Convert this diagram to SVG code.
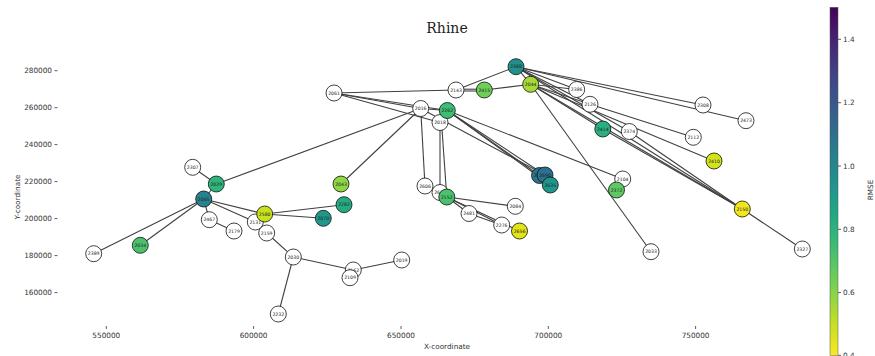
<svg xmlns="http://www.w3.org/2000/svg" width="875" height="356" viewBox="0 0 875 356">
<defs>
<linearGradient id="vir" x1="0" y1="0" x2="0" y2="1">
<stop offset="0" stop-color="#440154"/>
<stop offset="0.1" stop-color="#482475"/>
<stop offset="0.2" stop-color="#414487"/>
<stop offset="0.3" stop-color="#355f8d"/>
<stop offset="0.4" stop-color="#2a788e"/>
<stop offset="0.5" stop-color="#21918c"/>
<stop offset="0.6" stop-color="#22a884"/>
<stop offset="0.7" stop-color="#44bf70"/>
<stop offset="0.8" stop-color="#7ad151"/>
<stop offset="0.9" stop-color="#bddf26"/>
<stop offset="1" stop-color="#fde725"/>
</linearGradient>
</defs>
<style>
.e{stroke:#404040;stroke-width:1.1;fill:none}
.n circle{stroke:#111;stroke-width:0.8}
.w circle{fill:#fff}
.n text{font-family:"DejaVu Sans",sans-serif;font-size:4.6px;fill:#222;text-anchor:middle;dominant-baseline:central}
.tk{font-family:"DejaVu Sans",sans-serif;font-size:7.3px;fill:#333}
.tl{stroke:#333;stroke-width:0.8}
</style>
<rect width="875" height="356" fill="#fff"/>
<text x="447" y="33" font-family="DejaVu Serif,serif" font-size="14" text-anchor="middle" fill="#222">Rhine</text>
<g id="axes">
<g class="tk" text-anchor="end">
<text x="52" y="73.3">280000</text>
<text x="52" y="110.3">260000</text>
<text x="52" y="147.2">240000</text>
<text x="52" y="184.2">220000</text>
<text x="52" y="221.2">200000</text>
<text x="52" y="258.2">180000</text>
<text x="52" y="295.2">160000</text>
</g>
<g class="tl">
<line x1="54.5" y1="70.7" x2="57.5" y2="70.7"/>
<line x1="54.5" y1="107.7" x2="57.5" y2="107.7"/>
<line x1="54.5" y1="144.6" x2="57.5" y2="144.6"/>
<line x1="54.5" y1="181.6" x2="57.5" y2="181.6"/>
<line x1="54.5" y1="218.6" x2="57.5" y2="218.6"/>
<line x1="54.5" y1="255.6" x2="57.5" y2="255.6"/>
<line x1="54.5" y1="292.6" x2="57.5" y2="292.6"/>
<line x1="106.3" y1="326" x2="106.3" y2="329"/>
<line x1="253.6" y1="326" x2="253.6" y2="329"/>
<line x1="401" y1="326" x2="401" y2="329"/>
<line x1="548.3" y1="326" x2="548.3" y2="329"/>
<line x1="695.6" y1="326" x2="695.6" y2="329"/>
</g>
<g class="tk" text-anchor="middle">
<text x="106.3" y="337.5">550000</text>
<text x="253.6" y="337.5">600000</text>
<text x="401" y="337.5">650000</text>
<text x="548.3" y="337.5">700000</text>
<text x="695.6" y="337.5">750000</text>
<text x="447" y="349">X-coordinate</text>
<text transform="translate(19.5,197) rotate(-90)">Y-coordinate</text>
</g>
</g>
<g id="colorbar">
<rect x="830" y="7.3" width="8" height="348" fill="url(#vir)" stroke="#555" stroke-width="0.5"/>
<g class="tl">
<line x1="838" y1="39.3" x2="841" y2="39.3"/>
<line x1="838" y1="102.7" x2="841" y2="102.7"/>
<line x1="838" y1="166" x2="841" y2="166"/>
<line x1="838" y1="229.3" x2="841" y2="229.3"/>
<line x1="838" y1="292.6" x2="841" y2="292.6"/>
<line x1="838" y1="355.3" x2="841" y2="355.3"/>
</g>
<g class="tk">
<text x="843" y="41.8">1.4</text>
<text x="843" y="105.2">1.2</text>
<text x="843" y="168.5">1.0</text>
<text x="843" y="231.8">0.8</text>
<text x="843" y="295.1">0.6</text>
<text x="843" y="358">0.4</text>
<text transform="translate(872.5,190) rotate(-90)" text-anchor="middle">RMSE</text>
</g>
</g>
<g id="edges" class="e">
<line x1="93.7" y1="253.7" x2="203.7" y2="199"/>
<line x1="140.3" y1="245.3" x2="203.7" y2="199"/>
<line x1="192.7" y1="167.3" x2="216.3" y2="184"/>
<line x1="216.3" y1="184" x2="203.7" y2="199"/>
<line x1="216.3" y1="184" x2="420.7" y2="108.5"/>
<line x1="203.7" y1="199" x2="264.7" y2="214"/>
<line x1="203.7" y1="199" x2="255.3" y2="222"/>
<line x1="203.7" y1="199" x2="209.3" y2="219.7"/>
<line x1="209.3" y1="219.7" x2="234" y2="231"/>
<line x1="264.7" y1="214" x2="344" y2="204.7"/>
<line x1="264.7" y1="214" x2="323.3" y2="218.3"/>
<line x1="255.3" y1="222" x2="266.7" y2="233"/>
<line x1="266.7" y1="233" x2="293.3" y2="257"/>
<line x1="293.3" y1="257" x2="278.3" y2="314"/>
<line x1="293.3" y1="257" x2="353.3" y2="270"/>
<line x1="353.3" y1="270" x2="401.7" y2="260"/>
<line x1="341" y1="184" x2="420.7" y2="108.5"/>
<line x1="334" y1="93" x2="456" y2="90"/>
<line x1="334" y1="93" x2="420.7" y2="108.5"/>
<line x1="334" y1="93" x2="447.3" y2="110.5"/>
<line x1="334" y1="93" x2="440" y2="122.5"/>
<line x1="420.7" y1="108.5" x2="447.3" y2="110.5"/>
<line x1="420.7" y1="108.5" x2="425" y2="186"/>
<line x1="440" y1="122.5" x2="440" y2="192.5"/>
<line x1="441.5" y1="122.5" x2="446.8" y2="197"/>
<line x1="447.3" y1="110.5" x2="539.5" y2="175.5"/>
<line x1="447.3" y1="110.5" x2="545" y2="175"/>
<line x1="447.3" y1="110.5" x2="550.3" y2="185"/>
<line x1="420.7" y1="108.5" x2="545" y2="175"/>
<line x1="447.3" y1="110.5" x2="622.7" y2="179"/>
<line x1="446.8" y1="197" x2="515.3" y2="206.3"/>
<line x1="446.8" y1="197" x2="469" y2="213.5"/>
<line x1="446.8" y1="197" x2="501.7" y2="225"/>
<line x1="446.8" y1="197" x2="519.5" y2="231"/>
<line x1="469" y1="213.5" x2="501.7" y2="225"/>
<line x1="456" y1="89.2" x2="484.3" y2="89.2"/>
<line x1="456" y1="91" x2="484.3" y2="91"/>
<line x1="456" y1="90" x2="516" y2="66.7"/>
<line x1="484.3" y1="90" x2="530.7" y2="84.3"/>
<line x1="516" y1="66.7" x2="530.7" y2="84.3"/>
<line x1="516" y1="66.7" x2="576.7" y2="89.5"/>
<line x1="516" y1="66.7" x2="590" y2="104.3"/>
<line x1="516" y1="66.7" x2="703" y2="105"/>
<line x1="516" y1="66.7" x2="746" y2="120.7"/>
<line x1="516" y1="66.7" x2="742.3" y2="209"/>
<line x1="516" y1="66.7" x2="629.3" y2="131.5"/>
<line x1="530.7" y1="84.3" x2="590" y2="104.3"/>
<line x1="530.7" y1="84.3" x2="576.7" y2="89.5"/>
<line x1="530.7" y1="84.3" x2="602.8" y2="129"/>
<line x1="530.7" y1="84.3" x2="742.3" y2="209"/>
<line x1="530.7" y1="84.3" x2="714" y2="161"/>
<line x1="530.7" y1="84.3" x2="651" y2="251.7"/>
<line x1="590" y1="104.3" x2="693.3" y2="137.3"/>
<line x1="629.3" y1="131.5" x2="742.3" y2="209"/>
<line x1="602.8" y1="129" x2="742.3" y2="209"/>
<line x1="742.3" y1="209" x2="802.3" y2="249"/>
</g>
<g id="nodes">
<g id="n2061" class="n w"><circle cx="334" cy="93" r="8"/><text x="334" y="93">2061</text></g>
<g id="n2143" class="n w"><circle cx="456" cy="90" r="8"/><text x="456" y="90">2143</text></g>
<g id="n2386" class="n w"><circle cx="576.7" cy="89.5" r="8"/><text x="576.7" y="89.5">2386</text></g>
<g id="n2126" class="n w"><circle cx="590" cy="104.3" r="8"/><text x="590" y="104.3">2126</text></g>
<g id="n2016" class="n w"><circle cx="420.7" cy="108.5" r="8"/><text x="420.7" y="108.5">2016</text></g>
<g id="n2018" class="n w"><circle cx="440" cy="122.5" r="8"/><text x="440" y="122.5">2018</text></g>
<g id="n2374" class="n w"><circle cx="629.3" cy="131.5" r="8"/><text x="629.3" y="131.5">2374</text></g>
<g id="n2308" class="n w"><circle cx="703" cy="105" r="8"/><text x="703" y="105">2308</text></g>
<g id="n2473" class="n w"><circle cx="746" cy="120.7" r="8"/><text x="746" y="120.7">2473</text></g>
<g id="n2112" class="n w"><circle cx="693.3" cy="137.3" r="8"/><text x="693.3" y="137.3">2112</text></g>
<g id="n2104" class="n w"><circle cx="622.7" cy="179" r="8"/><text x="622.7" y="179">2104</text></g>
<g id="n2033" class="n w"><circle cx="651" cy="251.7" r="8"/><text x="651" y="251.7">2033</text></g>
<g id="n2327" class="n w"><circle cx="802.3" cy="249" r="8"/><text x="802.3" y="249">2327</text></g>
<g id="n2606" class="n w"><circle cx="425" cy="186" r="8"/><text x="425" y="186">2606</text></g>
<g id="n2614" class="n w"><circle cx="440" cy="192.5" r="8"/><text x="440" y="192.5">2614</text></g>
<g id="n2084" class="n w"><circle cx="515.3" cy="206.3" r="8"/><text x="515.3" y="206.3">2084</text></g>
<g id="n2481" class="n w"><circle cx="469" cy="213.5" r="8"/><text x="469" y="213.5">2481</text></g>
<g id="n2276" class="n w"><circle cx="501.7" cy="225" r="8"/><text x="501.7" y="225">2276</text></g>
<g id="n2307" class="n w"><circle cx="192.7" cy="167.3" r="8"/><text x="192.7" y="167.3">2307</text></g>
<g id="n2467" class="n w"><circle cx="209.3" cy="219.7" r="8"/><text x="209.3" y="219.7">2467</text></g>
<g id="n2131" class="n w"><circle cx="255.3" cy="222" r="8"/><text x="255.3" y="222">2131</text></g>
<g id="n2179" class="n w"><circle cx="234" cy="231" r="8"/><text x="234" y="231">2179</text></g>
<g id="n2159" class="n w"><circle cx="266.7" cy="233" r="8"/><text x="266.7" y="233">2159</text></g>
<g id="n2389" class="n w"><circle cx="93.7" cy="253.7" r="8"/><text x="93.7" y="253.7">2389</text></g>
<g id="n2030" class="n w"><circle cx="293.3" cy="257" r="8"/><text x="293.3" y="257">2030</text></g>
<g id="n2232" class="n w"><circle cx="278.3" cy="314" r="8"/><text x="278.3" y="314">2232</text></g>
<g id="n2162" class="n w"><circle cx="353.3" cy="270" r="8"/><text x="353.3" y="270">2162</text></g>
<g id="n2109" class="n w"><circle cx="350" cy="277.7" r="8"/><text x="350" y="277.7">2109</text></g>
<g id="n2019" class="n w"><circle cx="401.7" cy="260" r="8"/><text x="401.7" y="260">2019</text></g>
<g id="n2388" class="n"><circle cx="516" cy="66.7" r="8" fill="#20908c"/><text x="516" y="66.7">2388</text></g>
<g id="n2044" class="n"><circle cx="530.7" cy="84.3" r="8" fill="#a5db36"/><text x="530.7" y="84.3">2044</text></g>
<g id="n2415" class="n"><circle cx="484.3" cy="90" r="8" fill="#6ece58"/><text x="484.3" y="90">2415</text></g>
<g id="n2262" class="n"><circle cx="447.3" cy="110.5" r="8" fill="#3dbc74"/><text x="447.3" y="110.5">2262</text></g>
<g id="n2414" class="n"><circle cx="602.8" cy="129" r="8" fill="#2ab07f"/><text x="602.8" y="129">2414</text></g>
<g id="n2410" class="n"><circle cx="714" cy="161" r="8" fill="#d2e21b"/><text x="714" y="161">2410</text></g>
<g id="n2150" class="n"><circle cx="742.3" cy="209" r="8" fill="#f2e51d"/><text x="742.3" y="209">2150</text></g>
<g id="n2372" class="n"><circle cx="616.5" cy="190" r="8" fill="#5ec962"/><text x="616.5" y="190">2372</text></g>
<g id="n2040" class="n"><circle cx="539.5" cy="175.5" r="8" fill="#2b748e"/><text x="539.5" y="175.5">2040</text></g>
<g id="n2690" class="n"><circle cx="545" cy="175" r="8" fill="#2c718e"/><text x="545" y="175">2690</text></g>
<g id="n2635" class="n"><circle cx="550.3" cy="185" r="8" fill="#1f968b"/><text x="550.3" y="185">2635</text></g>
<g id="n2152" class="n"><circle cx="446.8" cy="197" r="8" fill="#4ac16d"/><text x="446.8" y="197">2152</text></g>
<g id="n2656" class="n"><circle cx="519.5" cy="231" r="8" fill="#e2e418"/><text x="519.5" y="231">2656</text></g>
<g id="n2029" class="n"><circle cx="216.3" cy="184" r="8" fill="#2fb47c"/><text x="216.3" y="184">2029</text></g>
<g id="n2065" class="n"><circle cx="203.7" cy="199" r="8" fill="#26828e"/><text x="203.7" y="199">2065</text></g>
<g id="n2580" class="n"><circle cx="264.7" cy="214" r="8" fill="#cae11f"/><text x="264.7" y="214">2580</text></g>
<g id="n2034" class="n"><circle cx="140.3" cy="245.3" r="8" fill="#4ac16d"/><text x="140.3" y="245.3">2034</text></g>
<g id="n2043" class="n"><circle cx="341" cy="184" r="8" fill="#8ed645"/><text x="341" y="184">2043</text></g>
<g id="n2282" class="n"><circle cx="344" cy="204.7" r="8" fill="#25ab82"/><text x="344" y="204.7">2282</text></g>
<g id="n2070" class="n"><circle cx="323.3" cy="218.3" r="8" fill="#1f988b"/><text x="323.3" y="218.3">2070</text></g>
</g>
</svg>
